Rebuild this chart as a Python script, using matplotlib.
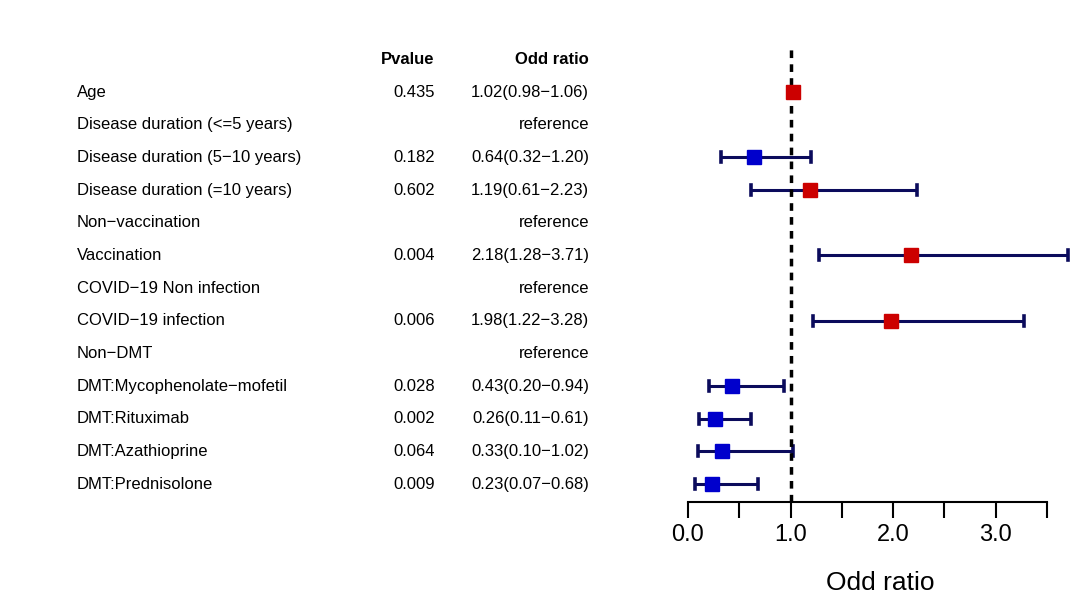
import numpy as np
import matplotlib
matplotlib.use("Agg")
import matplotlib.pyplot as plt
from matplotlib.transforms import blended_transform_factory

plt.rcParams['font.family'] = ['Liberation Sans', 'DejaVu Sans']

# table data
labels = ["Age", "Disease duration (<=5 years)", "Disease duration (5\u221210 years)",
          "Disease duration (=10 years)", "Non\u2212vaccination", "Vaccination",
          "COVID\u221219 Non infection", "COVID\u221219 infection", "Non\u2212DMT",
          "DMT:Mycophenolate\u2212mofetil", "DMT:Rituximab", "DMT:Azathioprine",
          "DMT:Prednisolone"]
pvalues = ["0.435", "", "0.182", "0.602", "", "0.004", "", "0.006", "",
           "0.028", "0.002", "0.064", "0.009"]
odds = [1.02, None, 0.64, 1.19, None, 2.18, None, 1.98, None, 0.43, 0.26, 0.33, 0.23]
lower = [0.98, None, 0.32, 0.61, None, 1.28, None, 1.22, None, 0.20, 0.11, 0.10, 0.07]
upper = [1.06, None, 1.20, 2.23, None, 3.71, None, 3.28, None, 0.94, 0.61, 1.02, 0.68]

W, H = 1080, 599
fig = plt.figure(figsize=(W / 100, H / 100), dpi=100)
ax = fig.add_axes([688 / W, 1 - 502 / H, 384 / W, (502 - 40) / H])
ax.set_xlim(0, 384 / 102.5)
row_px = 32.67
ax.set_ylim((502 - 92) / row_px, (40 - 92) / row_px)

navy = "#0b0b5c"
for i in range(len(labels)):
    if odds[i] is None:
        continue
    ax.plot([lower[i], upper[i]], [i, i], color=navy, lw=2.2, solid_capstyle='butt', zorder=2)
    for c in (lower[i], upper[i]):
        ax.plot([c, c], [i - 0.15, i + 0.15], color=navy, lw=2.6, zorder=2)
    col = "#cc0000" if odds[i] > 1 else "#0000cc"
    ax.plot(odds[i], i, marker='s', ms=9.5, color=col, mec=col, zorder=4, ls='none')

ax.axvline(1.0, ymin=0, ymax=(502 - 48) / (502 - 40), color='black', lw=2.5,
           ls=(0, (2.2, 1.8)), zorder=3)

for s in ['top', 'right', 'left']:
    ax.spines[s].set_visible(False)
ax.spines['bottom'].set_bounds(0, 3.5)
ax.spines['bottom'].set_linewidth(1.5)
ax.set_yticks([])
ax.set_xticks(np.arange(0, 3.51, 0.5))
ax.set_xticklabels(["0.0", "", "1.0", "", "2.0", "", "3.0", ""])
ax.tick_params(axis='x', length=11.5, width=1.5, labelsize=17, pad=4)
ax.set_xlabel("Odd ratio", fontsize=19, labelpad=18)

tr = blended_transform_factory(fig.transFigure, ax.transData)
fs = 12
ax.text(434 / W, -1, "Pvalue", transform=tr, ha='right', va='center',
        fontsize=fs, fontweight='bold', clip_on=False)
ax.text(589 / W, -1, "Odd ratio", transform=tr, ha='right', va='center',
        fontsize=fs, fontweight='bold', clip_on=False)
for i, lab in enumerate(labels):
    ax.text(77 / W, i, lab, transform=tr, ha='left', va='center', fontsize=fs, clip_on=False)
    ax.text(435 / W, i, pvalues[i], transform=tr, ha='right', va='center', fontsize=fs, clip_on=False)
    if odds[i] is None:
        txt = "reference"
    else:
        txt = "%.2f(%.2f\u2212%.2f)" % (odds[i], lower[i], upper[i])
    ax.text(589 / W, i, txt, transform=tr, ha='right', va='center', fontsize=fs, clip_on=False)

fig.savefig("out.png", dpi=100)
